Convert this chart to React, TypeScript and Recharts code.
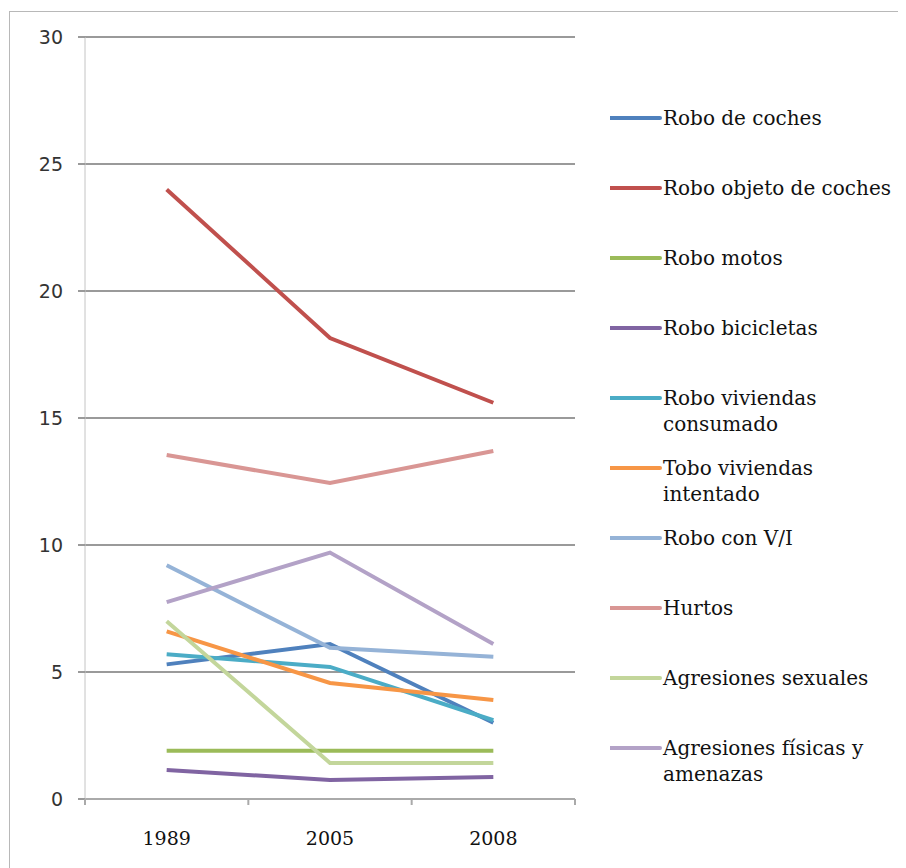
import { CartesianGrid, Legend, Line, LineChart, XAxis, YAxis } from 'recharts';

const years = ['1989', '2005', '2008'];

const roboCoches = [5.3, 6.1, 3.0];
const roboObjetoCoches = [24.0, 18.15, 15.6];
const roboMotos = [1.9, 1.9, 1.9];
const roboBicicletas = [1.14, 0.75, 0.87];
const roboViviendasConsumado = [5.7, 5.2, 3.1];
const roboViviendasIntentado = [6.6, 4.57, 3.9];
const roboConVI = [9.2, 5.95, 5.6];
const hurtos = [13.54, 12.44, 13.7];
const agresionesSexuales = [7.0, 1.42, 1.42];
const agresionesFisicas = [7.75, 9.7, 6.1];

const seriesNames = [
	'Robo de coches',
	'Robo objeto de coches',
	'Robo motos',
	'Robo bicicletas',
	'Robo viviendas consumado',
	'Tobo viviendas intentado',
	'Robo con V/I',
	'Hurtos',
	'Agresiones sexuales',
	'Agresiones físicas y amenazas',
];
const seriesValues = [
	roboCoches,
	roboObjetoCoches,
	roboMotos,
	roboBicicletas,
	roboViviendasConsumado,
	roboViviendasIntentado,
	roboConVI,
	hurtos,
	agresionesSexuales,
	agresionesFisicas,
];
const seriesColors = [
	'#4F81BD',
	'#C0504D',
	'#9BBB59',
	'#8064A2',
	'#4BACC6',
	'#F79646',
	'#95B3D7',
	'#D99694',
	'#C3D69B',
	'#B3A2C7',
];

const yTicks = [0, 5, 10, 15, 20, 25, 30];

const data = years.map((year, i) => {
	const row: Record<string, string | number> = { year };
	seriesNames.forEach((name, s) => {
		row[name] = seriesValues[s][i];
	});
	return row;
});

const X_TICK_MARGIN = 33;

// year label plus the small tick marks that sit on the category edges
function YearTick({ x, y, payload, index, visibleTicksCount }: any) {
	const half = payload?.offset ?? 0;
	const axisY = y - X_TICK_MARGIN;
	const isLast = index === visibleTicksCount - 1;
	return (
		<g>
			<line x1={x - half} x2={x - half} y1={axisY} y2={axisY + 6} stroke="#aaaaaa" strokeWidth={2} />
			{isLast && <line x1={x + half} x2={x + half} y1={axisY} y2={axisY + 6} stroke="#aaaaaa" strokeWidth={2} />}
			<text x={x} y={y} dy="0.71em" textAnchor="middle" fontFamily="DejaVu Serif" fontSize={19} fill="#111">
				{payload.value}
			</text>
		</g>
	);
}

function LegendList({ payload }: any) {
	// keep the order of the series, not alphabetical
	const items = [...(payload || [])].sort(
		(a: any, b: any) => seriesNames.indexOf(a.value) - seriesNames.indexOf(b.value)
	);
	return (
		<div>
			{items.map((item: any) => (
				<div key={item.value} style={{ display: 'flex', alignItems: 'flex-start', height: 70 }}>
					<svg width={53} height={26} style={{ flex: 'none' }}>
						<line x1={0} y1={13} x2={50} y2={13} stroke={item.color} strokeWidth={4} strokeLinecap="round" />
					</svg>
					<span
						style={{
							fontFamily: 'DejaVu Serif',
							fontSize: 20,
							lineHeight: '26px',
							color: '#111',
							width: 236,
						}}
					>
						{item.value}
					</span>
				</div>
			))}
		</div>
	);
}

export default function App() {
	return (
		<div style={{ position: 'relative', width: 898, height: 860, background: '#fff' }}>
			<div
				style={{
					position: 'absolute',
					left: 1,
					top: 3,
					right: 0,
					bottom: 0,
					borderLeft: '1px solid #b8b8b8',
					borderTop: '1px solid #b8b8b8',
				}}
			/>
			<LineChart width={898} height={860} data={data} margin={{ top: 29, right: 35, bottom: 0, left: 0 }}>
				<CartesianGrid vertical={false} stroke="#9a9a9a" strokeWidth={2} />
				<XAxis
					dataKey="year"
					scale="band"
					height={69}
					axisLine={{ stroke: '#aaaaaa', strokeWidth: 2 }}
					tickLine={false}
					tickSize={0}
					tickMargin={X_TICK_MARGIN}
					tick={<YearTick />}
				/>
				<YAxis
					width={77}
					domain={[0, 30]}
					ticks={yTicks}
					interval={0}
					axisLine={{ stroke: '#c4c4c4', strokeWidth: 1 }}
					tickLine={{ stroke: '#9a9a9a', strokeWidth: 2 }}
					tickSize={7}
					tickMargin={15}
					tick={{ fontFamily: 'DejaVu Sans', fontSize: 19, fill: '#333' }}
				/>
				<Legend
					layout="vertical"
					align="right"
					verticalAlign="top"
					content={<LegendList />}
					wrapperStyle={{ left: 602, top: 97, right: undefined, width: 296 }}
				/>
				{seriesNames.map((name, s) => (
					<Line
						key={name}
						type="linear"
						dataKey={name}
						stroke={seriesColors[s]}
						strokeWidth={4}
						dot={false}
						activeDot={false}
						isAnimationActive={false}
					/>
				))}
			</LineChart>
		</div>
	);
}
